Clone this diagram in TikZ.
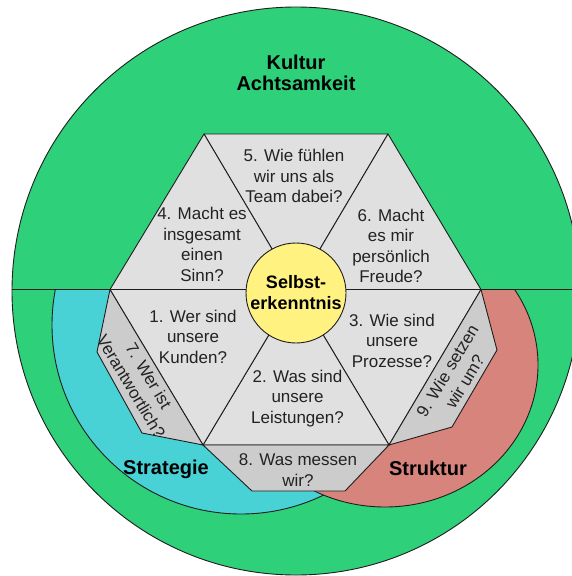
\documentclass[tikz,border=0pt]{standalone}
\usepackage{fontspec}
\setmainfont{Liberation Sans}
\definecolor{kgreen}{RGB}{46,208,122}
\definecolor{kblue}{RGB}{72,210,214}
\definecolor{kred}{RGB}{214,132,124}
\definecolor{kyellow}{RGB}{255,242,128}
\definecolor{klight}{RGB}{224,224,224}
\definecolor{kdark}{RGB}{204,204,204}
\definecolor{txt}{RGB}{34,34,34}
\definecolor{edge}{RGB}{30,30,30}
\tikzset{
  area/.style={draw=edge, line width=0.9pt},
  tri/.style={area, fill=klight},
  trap/.style={area, fill=kdark},
  q/.style={font=\fontsize{17}{20.5}\selectfont, align=center, text=txt, inner sep=0pt},
  lbl/.style={font=\fontsize{20}{21.5}\selectfont\bfseries, align=center, inner sep=0pt},
  core/.style={font=\fontsize{18}{21}\selectfont\bfseries, align=center, inner sep=0pt}
}
\begin{document}
\begin{tikzpicture}[x=1pt,y=-1pt,line join=round]
\useasboundingbox (0,0) rectangle (572,576);
\clip (0,0) rectangle (572,576);
% outer circle
\filldraw[area, fill=kgreen] (296,291) circle[radius=284pt];
% Strategie and Struktur
\begin{scope}
  \clip (0,289) rectangle (572,576);
  \filldraw[area, fill=kblue] (241,325) circle[radius=189pt];
  \filldraw[area, fill=kred] (385,365) ellipse[x radius=153pt, y radius=142pt];
\end{scope}
\draw[area] (12,289) -- (572,289);
% hexagon
\coordinate (H) at (296,289.5);
\coordinate (TL) at (204,134);
\coordinate (TR) at (388,134);
\coordinate (R) at (481,289.5);
\coordinate (BR) at (389,445);
\coordinate (BL) at (203,445);
\coordinate (L) at (110,289.5);
\filldraw[tri] (H) -- (TL) -- (TR) -- cycle;
\filldraw[tri] (H) -- (TR) -- (R) -- cycle;
\filldraw[tri] (H) -- (R) -- (BR) -- cycle;
\filldraw[tri] (H) -- (BR) -- (BL) -- cycle;
\filldraw[tri] (H) -- (BL) -- (L) -- cycle;
\filldraw[tri] (H) -- (L) -- (TL) -- cycle;
% outer trapezoids
\filldraw[trap] (L) -- (97,352) -- (142,433) -- (BL) -- cycle;
\filldraw[trap] (BL) -- (BR) -- (345,491) -- (252,491) -- cycle;
\filldraw[trap] (R) -- (497,350) -- (452,427) -- (BR) -- cycle;
% centre
\node[circle, draw=edge, line width=0.9pt, fill=kyellow, minimum size=100pt, inner sep=0pt] (core) at (296,293) {};
\node[core] (selbst) at (296,292.5) {Selbst-\\erkenntnis};
% labels
\node[lbl] (kultur) at (296,73) {Kultur\\Achtsamkeit};
\node[lbl] (strategie) at (166,469) {Strategie};
\node[lbl] (struktur) at (428,468) {Struktur};
% questions
\node[q] (q1) at (193,336.5) {1. Wer sind\\unsere\\Kunden?};
\node[q] (q2) at (297.5,398.3) {2. Was sind\\unsere\\Leistungen?};
\node[q] (q3) at (392,340.7) {3. Wie sind\\unsere\\Prozesse?};
\node[q] (q4) at (202,244.5) {4. Macht es\\insgesamt\\einen\\Sinn?};
\node[q] (q5) at (294,176) {5. Wie fühlen\\wir uns als\\Team dabei?};
\node[q] (q6) at (391,246) {6. Macht\\es mir\\persönlich\\Freude?};
\node[q, rotate=-59] (q7) at (140,381) {7. Wer ist\\Verantwortlich?};
\node[q] (q8) at (298,470) {8. Was messen\\wir?};
\node[q, rotate=59] (q9) at (456,376) {9. Wie setzen\\wir um?};
\end{tikzpicture}
\end{document}
